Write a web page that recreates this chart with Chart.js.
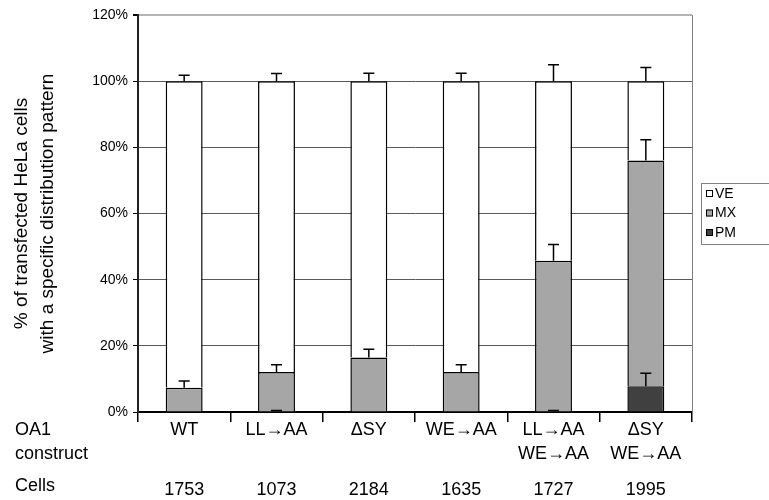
<!DOCTYPE html>
<html>
<head>
<meta charset="utf-8">
<script src="https://cdn.jsdelivr.net/npm/chart.js@4"></script>
<style>
  html, body { margin: 0; padding: 0; background: #fff; }
</style>
</head>
<body>
<canvas id="chart" width="769" height="500"></canvas>
<script>
// construct names (tick labels) and cell counts
const constructs = [['WT'], ['LL→AA'], ['ΔSY'], ['WE→AA'], ['LL→AA', 'WE→AA'], ['ΔSY', 'WE→AA']];
const cells = ['1753', '1073', '2184', '1635', '1727', '1995'];

// % of cells per pattern, stacked PM / MX / VE, with upward error bars
const pm = [0, 0, 0, 0, 0, 7.8];
const pmErr = [null, 0, null, null, 0, 3.9];
const mx = [7.3, 12.1, 16.5, 12.1, 45.7, 68.2];
const mxErr = [2.1, 2.2, 2.5, 2.2, 4.9, 6.3];
const ve = [92.7, 87.9, 83.5, 87.9, 54.3, 24.0];
const veErr = [1.8, 2.3, 2.4, 2.4, 5.0, 4.1];

const FONT = 'Arial, "Liberation Sans", sans-serif';

const errorBars = {
  id: 'errorBars',
  afterDatasetsDraw(chart) {
    const ctx = chart.ctx;
    const y = chart.scales.y;
    ctx.save();
    ctx.strokeStyle = '#000';
    ctx.lineWidth = 1.5;
    chart.data.datasets.forEach((ds, i) => {
      chart.getDatasetMeta(i).data.forEach((bar, j) => {
        const e = ds.errors[j];
        if (e === null) return;
        // zero-length bars sit on the axis line; lift the cap just above it
        const base = e === 0 ? bar.y - 1.5 : bar.y;
        const yEnd = base - (y.getPixelForValue(0) - y.getPixelForValue(e));
        ctx.beginPath();
        ctx.moveTo(bar.x, base);
        ctx.lineTo(bar.x, yEnd);
        ctx.moveTo(bar.x - 5.5, yEnd);
        ctx.lineTo(bar.x + 5.5, yEnd);
        ctx.stroke();
      });
    });
    ctx.restore();
  }
};

const extras = {
  id: 'extras',
  afterDraw(chart) {
    const ctx = chart.ctx;
    const a = chart.chartArea;
    ctx.save();
    // right frame line
    ctx.strokeStyle = '#808080';
    ctx.lineWidth = 1;
    ctx.beginPath();
    ctx.moveTo(a.right + 0.5, a.top);
    ctx.lineTo(a.right + 0.5, a.bottom);
    ctx.stroke();

    // row captions under the axis
    ctx.fillStyle = '#000';
    ctx.font = '18px ' + FONT;
    ctx.textAlign = 'left';
    ctx.textBaseline = 'middle';
    ctx.fillText('OA1', 15, 430);
    ctx.fillText('construct', 15, 454);
    ctx.fillText('Cells', 15, 486);

    // legend box
    ctx.strokeStyle = '#808080';
    ctx.strokeRect(701.5, 183.5, 80, 61);
    ctx.font = '14px ' + FONT;
    const items = chart.data.datasets.slice().reverse();
    items.forEach((ds, k) => {
      const cy = 193 + k * 19.5;
      ctx.fillStyle = ds.backgroundColor;
      ctx.fillRect(706, cy - 3, 7, 7);
      ctx.strokeStyle = '#000';
      ctx.strokeRect(706.5, cy - 2.5, 6, 6);
      ctx.fillStyle = '#000';
      ctx.fillText(ds.label, 715, cy + 1);
    });
    ctx.restore();
  }
};

new Chart(document.getElementById('chart'), {
  type: 'bar',
  data: {
    labels: constructs,
    datasets: [
      { label: 'PM', data: pm, errors: pmErr, backgroundColor: '#404040' },
      { label: 'MX', data: mx, errors: mxErr, backgroundColor: '#a6a6a6' },
      { label: 'VE', data: ve, errors: veErr, backgroundColor: '#ffffff' }
    ]
  },
  options: {
    responsive: false,
    animation: false,
    devicePixelRatio: 1,
    layout: { padding: { top: 15, right: 77, left: 0, bottom: 0 } },
    datasets: {
      bar: {
        borderColor: '#000',
        borderWidth: 1.5,
        categoryPercentage: 1,
        barPercentage: 0.4
      }
    },
    plugins: {
      legend: { display: false },
      tooltip: { enabled: false }
    },
    scales: {
      x: {
        stacked: true,
        offset: true,
        grid: { offset: true, drawOnChartArea: false, tickLength: 10, tickColor: '#000', lineWidth: 1.5 },
        border: { color: '#000', width: 2 },
        ticks: { color: '#000', font: { family: FONT, size: 18, lineHeight: 24 / 18 }, padding: -4, maxRotation: 0, autoSkip: false },
        afterFit(s) { s.height = 60; }
      },
      x2: {
        type: 'category',
        position: 'bottom',
        labels: cells,
        offset: true,
        grid: { display: false },
        border: { display: false },
        ticks: { color: '#000', font: { family: FONT, size: 18, lineHeight: 24 / 18 }, padding: -2, maxRotation: 0, autoSkip: false },
        afterFit(s) { s.height = 28; }
      },
      y: {
        stacked: true,
        min: 0,
        max: 120,
        ticks: {
          stepSize: 20,
          color: '#000',
          padding: 5,
          font: { family: FONT, size: 14 },
          callback: v => v + '%'
        },
        grid: {
          tickLength: 5,
          tickColor: '#000',
          color: c => (c.tick && c.tick.value === 120) ? '#b4b4b4' : '#5a5a5a',
          lineWidth: c => (c.tick && c.tick.value === 120) ? 2 : 1
        },
        border: { color: '#222', width: 2 },
        title: {
          display: true,
          text: ['% of transfected HeLa cells', 'with a specific distribution pattern'],
          color: '#000',
          font: { family: FONT, size: 19, lineHeight: 26 / 19 },
          padding: { top: 9, bottom: 0 }
        },
        afterFit(s) { s.width = 138; }
      }
    }
  },
  plugins: [errorBars, extras]
});
</script>
</body>
</html>
